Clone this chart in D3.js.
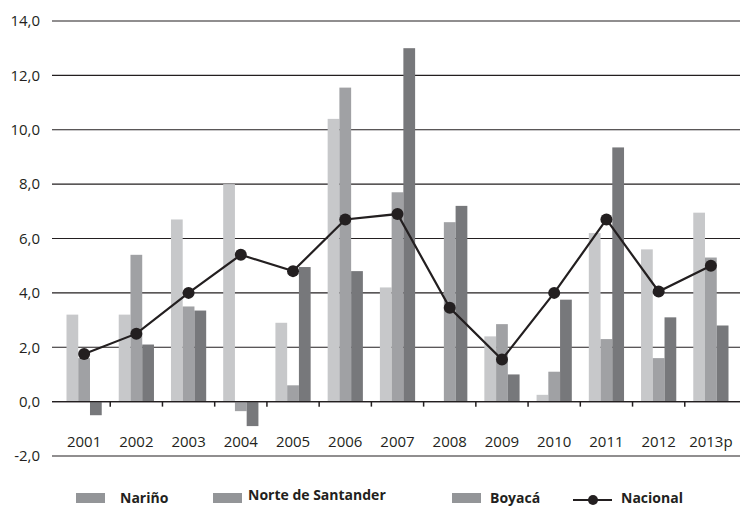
<!DOCTYPE html>
<html lang="es">
<head>
<meta charset="utf-8">
<script src="https://d3js.org/d3.v7.min.js"></script>
<style>
  body { margin: 0; background: #fff; }
  text { font-family: "Open Sans", "DejaVu Sans", sans-serif; fill: #231f20; }
</style>
</head>
<body>
<div id="chart"></div>
<script>
// data
const years = ["2001","2002","2003","2004","2005","2006","2007","2008","2009","2010","2011","2012","2013p"];
const narino = [3.2, 3.2, 6.7, 8.0, 2.9, 10.4, 4.2, 0.0, 2.4, 0.25, 6.2, 5.6, 6.95];
const norte  = [1.6, 5.4, 3.5, -0.35, 0.6, 11.55, 7.7, 6.6, 2.85, 1.1, 2.3, 1.6, 5.3];
const boyaca = [-0.5, 2.1, 3.35, -0.9, 4.95, 4.8, 13.0, 7.2, 1.0, 3.75, 9.35, 3.1, 2.8];
const nacional = [1.75, 2.5, 4.0, 5.4, 4.8, 6.7, 6.9, 3.45, 1.55, 4.0, 6.7, 4.05, 5.0];
const yTicks = [-2, 0, 2, 4, 6, 8, 10, 12, 14];
const seriesNames = ["Nariño", "Norte de Santander", "Boyacá"];
const barColors = ["#c7c8ca", "#a0a1a4", "#77787b"];

const W = 740, H = 508;
const svg = d3.select("#chart").append("svg")
  .attr("width", W).attr("height", H);

const x = d3.scaleBand().domain(years).range([58, 737]);
const inner = d3.scaleBand().domain([0, 1, 2]).range([8.5, x.bandwidth() - 8.5]);
const y = d3.scaleLinear().domain([-2, 14]).range([456, 21]);

// horizontal grid lines
svg.append("g").selectAll("line").data(yTicks).join("line")
  .attr("x1", 52).attr("x2", W)
  .attr("y1", d => y(d)).attr("y2", d => y(d))
  .attr("stroke", "#231f20").attr("stroke-width", 1.2);

// y labels (comma decimal, plain hyphen for minus)
svg.append("g").selectAll("text").data(yTicks).join("text")
  .attr("x", 40).attr("y", d => y(d)).attr("dy", "0.35em")
  .attr("text-anchor", "end").attr("font-size", 15)
  .text(d => d.toFixed(1).replace(".", ","));

// bars
const all = [narino, norte, boyaca];
all.forEach((vals, s) => {
  svg.append("g").selectAll("rect").data(vals).join("rect")
    .attr("x", (d, i) => x(years[i]) + inner(s))
    .attr("width", inner.bandwidth())
    .attr("y", d => y(Math.max(0, d)))
    .attr("height", d => Math.abs(y(d) - y(0)))
    .attr("fill", barColors[s]);
});

// zero axis with ticks between categories
svg.append("line")
  .attr("x1", 52).attr("x2", W).attr("y1", y(0)).attr("y2", y(0))
  .attr("stroke", "#231f20").attr("stroke-width", 1.2);
svg.append("g").selectAll("line").data(years.slice(1)).join("line")
  .attr("x1", d => x(d)).attr("x2", d => x(d))
  .attr("y1", y(0)).attr("y2", y(0) + 5)
  .attr("stroke", "#231f20").attr("stroke-width", 1.5);

// category labels
svg.append("g").selectAll("text").data(years).join("text")
  .attr("x", d => x(d) + x.bandwidth() / 2).attr("y", 447)
  .attr("text-anchor", "middle").attr("font-size", 15)
  .text(d => d);

// Nacional line
const line = d3.line()
  .x((d, i) => x(years[i]) + x.bandwidth() / 2)
  .y(d => y(d));
svg.append("path").datum(nacional)
  .attr("d", line).attr("fill", "none")
  .attr("stroke", "#231f20").attr("stroke-width", 2.2);
svg.append("g").selectAll("circle").data(nacional).join("circle")
  .attr("cx", (d, i) => x(years[i]) + x.bandwidth() / 2)
  .attr("cy", d => y(d)).attr("r", 6)
  .attr("fill", "#231f20");

// legend
const legend = [
  {name: seriesNames[0], sx: 76, tx: 120, ty: 503},
  {name: seriesNames[1], sx: 213, tx: 248, ty: 500},
  {name: seriesNames[2], sx: 452, tx: 490, ty: 503}
];
legend.forEach(l => {
  svg.append("rect").attr("x", l.sx).attr("y", 493).attr("width", 29).attr("height", 10)
    .attr("fill", "#939598");
  svg.append("text").attr("x", l.tx).attr("y", l.ty)
    .attr("font-size", 14).attr("font-weight", "bold").text(l.name);
});
svg.append("line").attr("x1", 573).attr("x2", 612).attr("y1", 500).attr("y2", 500)
  .attr("stroke", "#231f20").attr("stroke-width", 2.2);
svg.append("circle").attr("cx", 593).attr("cy", 500).attr("r", 5).attr("fill", "#231f20");
svg.append("text").attr("x", 621).attr("y", 503)
  .attr("font-size", 14).attr("font-weight", "bold").text("Nacional");
</script>
</body>
</html>
